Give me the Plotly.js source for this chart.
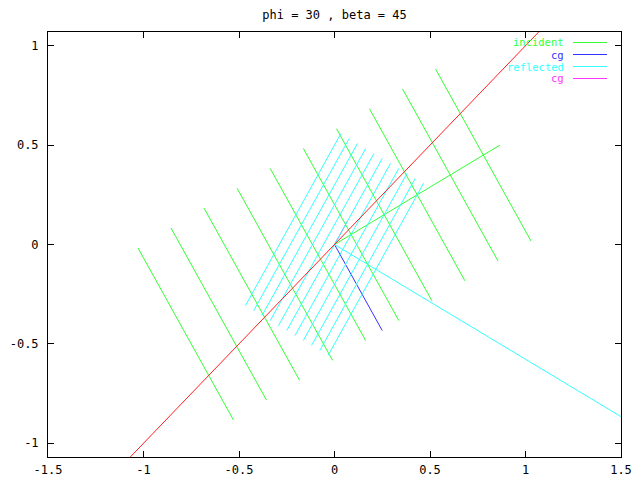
<!DOCTYPE html>
<html>
<head>
<meta charset="utf-8">
<script src="https://cdn.plot.ly/plotly-3.0.1.min.js"></script>
<style>html,body{margin:0;padding:0;background:#fff;}#chart{width:640px;height:480px;}</style>
</head>
<body>
<div id="chart"></div>
<script>
// ---- data ----
const chartTitle = 'phi = 30 , beta = 45';
const xTickVals = [-1.5, -1, -0.5, 0, 0.5, 1, 1.5];
const xTickText = ['-1.5', '-1', '-0.5', '0', '0.5', '1', '1.5'];
const yTickVals = [-1, -0.5, 0, 0.5, 1];
const yTickText = ['-1', '-0.5', '0', '0.5', '1'];

// incident ray, group velocity, reflected ray, reflected group velocity
const incidentX = [0, 0.866];
const incidentY = [0, 0.5];
const cgX = [0, 0.25];
const cgY = [0, -0.433];
const reflectedX = [0, 1.732];
const reflectedY = [0, -1.0];
const cg2X = [0, 0.067];
const cg2Y = [0, 0.116];

// wall (beta = 45)
const wallX = [-1.2, 1.2];
const wallY = [-1.2, 1.2];

// incident wave crests: start / end points
const incCrestX0 = [-1.029, -0.856, -0.683, -0.510, -0.337, -0.163, 0.010, 0.183, 0.356, 0.529];
const incCrestY0 = [-0.017, 0.083, 0.183, 0.283, 0.383, 0.483, 0.583, 0.683, 0.783, 0.883];
const incCrestX1 = [-0.529, -0.356, -0.183, -0.010, 0.163, 0.337, 0.510, 0.683, 0.856, 1.029];
const incCrestY1 = [-0.883, -0.783, -0.683, -0.583, -0.483, -0.383, -0.283, -0.183, -0.083, 0.017];

// reflected wave crests: start / end points
const refCrestX0 = [-0.4665, -0.4232, -0.3799, -0.3366, -0.2933, -0.25, -0.2067, -0.1634, -0.1201, -0.0768, -0.0335];
const refCrestY0 = [-0.308, -0.333, -0.358, -0.383, -0.408, -0.433, -0.458, -0.483, -0.508, -0.533, -0.558];
const refCrestX1 = [0.0335, 0.0768, 0.1201, 0.1634, 0.2067, 0.25, 0.2933, 0.3366, 0.3799, 0.4232, 0.4665];
const refCrestY1 = [0.558, 0.533, 0.508, 0.483, 0.458, 0.433, 0.408, 0.383, 0.358, 0.333, 0.308];

const keyNames = ['incident', 'cg', 'reflected', 'cg'];
const keyColors = ['#33ff33', '#3333ff', '#33ffff', '#ff33ff'];
const wallColor = '#ff2020';

// ---- build ----
function segs(x0, y0, x1, y1) {
  const xs = [], ys = [];
  for (let i = 0; i < x0.length; i++) {
    xs.push(x0[i], x1[i], null);
    ys.push(y0[i], y1[i], null);
  }
  return {x: xs, y: ys};
}
const inc = segs(incCrestX0, incCrestY0, incCrestX1, incCrestY1);
const ref = segs(refCrestX0, refCrestY0, refCrestX1, refCrestY1);

function ln(x, y, color, name) {
  return {x: x, y: y, type: 'scatter', mode: 'lines', name: name,
          line: {color: color, width: 1}, hoverinfo: 'skip', showlegend: false};
}

const traces = [
  ln(incidentX, incidentY, keyColors[0], keyNames[0]),
  ln(cgX, cgY, keyColors[1], keyNames[1]),
  ln(reflectedX, reflectedY, keyColors[2], keyNames[2]),
  ln(cg2X, cg2Y, keyColors[3], keyNames[3]),
  ln(inc.x, inc.y, keyColors[0], 'incident crests'),
  ln(ref.x, ref.y, keyColors[2], 'reflected crests'),
  ln(wallX, wallY, wallColor, 'wall')
];

const font = {family: 'DejaVu Sans Mono, monospace', size: 12, color: '#000'};

// key drawn gnuplot-style: right-aligned text then line sample
const annotations = [], shapes = [];
const plotTop = 32, plotH = 425;
keyNames.forEach((n, i) => {
  const py = 42.5 + i * 12;
  const yp = 1 - (py - plotTop) / plotH;
  annotations.push({xref: 'paper', yref: 'paper', x: 0.9025, y: yp, xanchor: 'right', yanchor: 'middle',
    text: n, showarrow: false, borderpad: 0,
    font: {family: font.family, size: 10.5, color: keyColors[i]}});
  shapes.push({type: 'line', xref: 'paper', yref: 'paper', x0: 0.9162, x1: 0.9756, y0: yp, y1: yp,
    line: {color: keyColors[i], width: 1}});
});

const axisCommon = {
  showgrid: false, zeroline: false, showline: true, mirror: 'ticks',
  linecolor: '#000', linewidth: 1, ticks: 'inside', ticklen: 6, tickcolor: '#000', tickwidth: 1,
  tickfont: font, tickmode: 'array'
};

const layout = {
  width: 640, height: 480,
  paper_bgcolor: '#fff', plot_bgcolor: '#fff',
  margin: {l: 48, r: 19, t: 32, b: 23, pad: 0},
  title: {text: chartTitle, font: font, xref: 'paper', x: 0.5, xanchor: 'center',
          yref: 'container', y: 1 - 15 / 480, yanchor: 'middle'},
  xaxis: Object.assign({}, axisCommon, {range: [-1.5, 1.5], tickvals: xTickVals, ticktext: xTickText, ticklabelstandoff: 2}),
  yaxis: Object.assign({}, axisCommon, {range: [-1.069, 1.069], tickvals: yTickVals, ticktext: yTickText, ticklabelstandoff: 6}),
  showlegend: false,
  annotations: annotations,
  shapes: shapes
};

Plotly.newPlot('chart', traces, layout, {staticPlot: true});
</script>
</body>
</html>
